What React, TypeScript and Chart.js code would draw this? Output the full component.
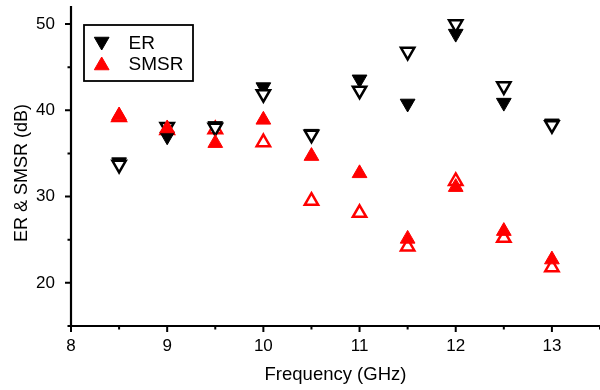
import React, { useEffect, useRef } from 'react';
import { Chart, registerables } from 'chart.js';

Chart.register(...registerables);

const frequencies = [8.5, 9, 9.5, 10, 10.5, 11, 11.5, 12, 12.5, 13];
const erFilled = [34.0, 37.0, 38.2, 42.7, 37.3, 43.6, 40.8, 48.9, 40.9, 38.5];
const erOpen = [33.7, 38.1, 38.0, 41.9, 37.2, 42.3, 46.8, 50.0, 42.8, 38.3];
const smsrFilled = [39.4, 37.9, 36.2, 38.9, 34.7, 32.7, 25.1, 31.1, 26.0, 22.7];
const smsrOpen = [39.2, 37.7, 37.8, 36.3, 29.5, 28.1, 24.2, 31.8, 25.2, 21.8];

const xMajorTicks = [8, 9, 10, 11, 12, 13];
const xMinorTicks = [8.5, 9.5, 10.5, 11.5, 12.5, 13.5];
const yMajorTicks = [20, 30, 40, 50];
const yMinorTicks = [15, 25, 35, 45];

const xTitle = 'Frequency (GHz)';
const yTitle = 'ER & SMSR (dB)';
const legendLabels = ['ER', 'SMSR'];

const FONT = "Arial, 'Liberation Sans', Helvetica, sans-serif";
const RED = '#ff0000';
const BLACK = '#000000';

const pts = (ys: number[]) => frequencies.map((x, i) => ({ x, y: ys[i] }));

const axesPlugin = {
  id: 'originAxes',
  afterDraw(chart: any) {
    const { ctx, chartArea, scales } = chart;
    const xs = scales.x;
    const ys = scales.y;
    ctx.save();
    ctx.strokeStyle = BLACK;
    ctx.lineWidth = 2.2;
    ctx.beginPath();
    ctx.moveTo(chartArea.left, chartArea.top);
    ctx.lineTo(chartArea.left, chartArea.bottom + 1);
    ctx.moveTo(chartArea.left - 3, chartArea.bottom);
    ctx.lineTo(chartArea.right, chartArea.bottom);
    ctx.stroke();
    ctx.lineWidth = 2;
    ctx.beginPath();
    yMajorTicks.forEach((v) => {
      const p = ys.getPixelForValue(v);
      ctx.moveTo(chartArea.left, p);
      ctx.lineTo(chartArea.left - 6, p);
    });
    yMinorTicks.forEach((v) => {
      const p = ys.getPixelForValue(v);
      ctx.moveTo(chartArea.left, p);
      ctx.lineTo(chartArea.left - 3.5, p);
    });
    xMajorTicks.forEach((v) => {
      const p = xs.getPixelForValue(v);
      ctx.moveTo(p, chartArea.bottom);
      ctx.lineTo(p, chartArea.bottom + 6);
    });
    xMinorTicks.forEach((v) => {
      const p = xs.getPixelForValue(v);
      ctx.moveTo(p, chartArea.bottom);
      ctx.lineTo(p, chartArea.bottom + 3.5);
    });
    ctx.stroke();
    // y-axis title, slightly below the plot centre as in the reference
    ctx.translate(22, 173);
    ctx.rotate(-Math.PI / 2);
    ctx.fillStyle = BLACK;
    ctx.font = `18px ${FONT}`;
    ctx.textAlign = 'center';
    ctx.textBaseline = 'middle';
    ctx.fillText(yTitle, 0, 0);
    ctx.restore();
  },
};

function tri(ctx: CanvasRenderingContext2D, x: number, y: number, r: number, down: boolean) {
  let rad = down ? Math.PI : 0;
  ctx.beginPath();
  for (let k = 0; k < 3; k++) {
    const px = x + Math.sin(rad) * r;
    const py = y - Math.cos(rad) * r;
    if (k === 0) ctx.moveTo(px, py);
    else ctx.lineTo(px, py);
    rad += (2 * Math.PI) / 3;
  }
  ctx.closePath();
}

const legendPlugin = {
  id: 'boxLegend',
  afterDraw(chart: any) {
    const { ctx } = chart;
    ctx.save();
    ctx.strokeStyle = BLACK;
    ctx.lineWidth = 1.8;
    ctx.fillStyle = '#ffffff';
    ctx.fillRect(84, 25, 109, 56);
    ctx.strokeRect(84, 25, 109, 56);
    tri(ctx, 101.7, 41.5, 8.5, true);
    ctx.fillStyle = BLACK;
    ctx.fill();
    ctx.lineWidth = 1;
    ctx.strokeStyle = BLACK;
    ctx.stroke();
    tri(ctx, 101.7, 65.5, 8.5, false);
    ctx.fillStyle = RED;
    ctx.fill();
    ctx.strokeStyle = RED;
    ctx.stroke();
    ctx.fillStyle = BLACK;
    ctx.font = `19px ${FONT}`;
    ctx.textBaseline = 'middle';
    ctx.textAlign = 'left';
    ctx.fillText(legendLabels[0], 128.5, 43.5);
    ctx.fillText(legendLabels[1], 128.5, 65);
    ctx.restore();
  },
};

export default function App() {
  const ref = useRef<HTMLCanvasElement | null>(null);
  useEffect(() => {
    if (!ref.current) return;
    const chart = new Chart(ref.current, {
      type: 'scatter',
      data: {
        datasets: [
          {
            label: 'SMSR (open)',
            data: pts(smsrOpen),
            pointStyle: 'triangle',
            pointRotation: 0,
            pointRadius: 7.7,
            pointBackgroundColor: '#ffffff',
            pointBorderColor: RED,
            pointBorderWidth: 2.5,
            order: 4,
          },
          {
            label: legendLabels[0],
            data: pts(erFilled),
            pointStyle: 'triangle',
            pointRotation: 180,
            pointRadius: 8.5,
            pointBackgroundColor: BLACK,
            pointBorderColor: BLACK,
            pointBorderWidth: 1,
            order: 3,
          },
          {
            label: 'ER (open)',
            data: pts(erOpen),
            pointStyle: 'triangle',
            pointRotation: 180,
            pointRadius: 7.7,
            pointBackgroundColor: '#ffffff',
            pointBorderColor: BLACK,
            pointBorderWidth: 2.5,
            order: 2,
          },
          {
            label: legendLabels[1],
            data: pts(smsrFilled),
            pointStyle: 'triangle',
            pointRotation: 0,
            pointRadius: 8.5,
            pointBackgroundColor: RED,
            pointBorderColor: RED,
            pointBorderWidth: 1,
            order: 1,
          },
        ],
      },
      options: {
        animation: false,
        responsive: false,
        maintainAspectRatio: false,
        events: [],
        layout: { autoPadding: false, padding: { top: 6, left: 0, right: 0, bottom: 0 } },
        plugins: { legend: { display: false }, title: { display: false }, tooltip: { enabled: false } },
        scales: {
          x: {
            type: 'linear',
            min: 8,
            max: 13.5,
            afterBuildTicks: (s: any) => {
              s.ticks = xMajorTicks.map((v) => ({ value: v }));
            },
            afterFit: (s: any) => {
              s.height = 64;
              s.paddingLeft = 0;
              s.paddingRight = 0;
              s.paddingTop = 0;
              s.paddingBottom = 0;
            },
            grid: { display: false, drawTicks: false },
            border: { display: false },
            ticks: {
              padding: 10,
              color: BLACK,
              maxRotation: 0,
              autoSkip: false,
              font: { family: FONT, size: 17 },
            },
            title: {
              display: true,
              text: xTitle,
              color: BLACK,
              font: { family: FONT, size: 18.5 },
              padding: { top: 0, bottom: 4 },
            },
          },
          y: {
            type: 'linear',
            min: 15,
            max: 52.1,
            afterBuildTicks: (s: any) => {
              s.ticks = yMajorTicks.map((v) => ({ value: v }));
            },
            afterFit: (s: any) => {
              s.width = 71;
              s.paddingLeft = 0;
              s.paddingRight = 0;
              s.paddingTop = 0;
              s.paddingBottom = 0;
            },
            grid: { display: false, drawTicks: false },
            border: { display: false },
            ticks: {
              padding: 16,
              color: BLACK,
              autoSkip: false,
              font: { family: FONT, size: 17 },
            },
            title: { display: false },
          },
        },
      },
      plugins: [axesPlugin, legendPlugin],
    } as any);
    return () => chart.destroy();
  }, []);
  return (
    <div style={{ position: 'absolute', left: 0, top: 0, width: 600, height: 390, background: '#fff' }}>
      <canvas ref={ref} width={600} height={390} style={{ display: 'block', width: 600, height: 390 }} />
    </div>
  );
}
